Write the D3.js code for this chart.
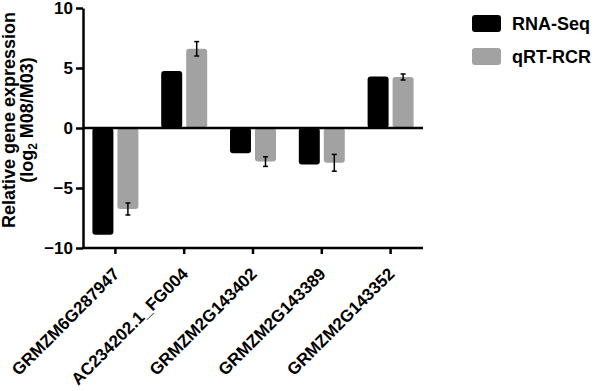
<!DOCTYPE html>
<html>
<head>
<meta charset="utf-8">
<script src="https://cdn.jsdelivr.net/npm/d3@7"></script>
<style>
  body { margin: 0; background: #fff; }
  svg text { font-family: "Liberation Sans", Arial, sans-serif; font-weight: bold; }
</style>
</head>
<body>
<svg id="chart" width="597" height="391"></svg>
<script>
const genes = ["GRMZM6G287947", "AC234202.1_FG004", "GRMZM2G143402", "GRMZM2G143389", "GRMZM2G143352"];
const rnaSeq = [-8.9, 4.75, -2.1, -3.05, 4.3];
const qrtPcr = [-6.75, 6.6, -2.8, -2.9, 4.25];
const qrtErr = [0.5, 0.6, 0.4, 0.7, 0.25];
const seriesNames = ["RNA-Seq", "qRT-RCR"];
const yTicks = [-10, -5, 0, 5, 10];

const svg = d3.select("#chart");
const colors = ["#000000", "#a2a2a2"];

const x = d3.scaleBand().domain(genes).range([81, 425]);
const y = d3.scaleLinear().domain([-10, 10]).range([248, 8]);
const xLeft = 83, xRight = 423;

// bars
const barW = 21;
genes.forEach((g, i) => {
  const c = x(g) + x.bandwidth() / 2;
  [rnaSeq[i], qrtPcr[i]].forEach((v, k) => {
    svg.append("rect")
      .attr("x", k === 0 ? c - 23 : c + 2)
      .attr("y", y(Math.max(0, v)))
      .attr("width", barW)
      .attr("height", Math.abs(y(v) - y(0)))
      .attr("rx", 3)
      .attr("fill", colors[k]);
  });
  // error bar on qRT bars
  const ex = c + 2 + barW / 2;
  const lo = y(qrtPcr[i] - qrtErr[i]), hi = y(qrtPcr[i] + qrtErr[i]);
  svg.append("line").attr("x1", ex).attr("x2", ex).attr("y1", lo).attr("y2", hi)
    .attr("stroke", "#000").attr("stroke-width", 1.5);
  [lo, hi].forEach(yy => svg.append("line")
    .attr("x1", ex - 2.5).attr("x2", ex + 2.5).attr("y1", yy).attr("y2", yy)
    .attr("stroke", "#000").attr("stroke-width", 1.5));
});

// zero line
svg.append("line")
  .attr("x1", xLeft).attr("x2", xRight)
  .attr("y1", y(0)).attr("y2", y(0))
  .attr("stroke", "#000").attr("stroke-width", 2.5);

// y axis
const yAxis = svg.append("g")
  .attr("transform", `translate(${xLeft},0)`)
  .call(d3.axisLeft(y).tickValues(yTicks).tickSize(7).tickPadding(3).tickSizeOuter(0));
yAxis.select(".domain").attr("stroke-width", 2.5);
yAxis.selectAll(".tick line").attr("stroke-width", 2.5);
yAxis.selectAll(".tick text").style("font-size", "17px").attr("fill", "#000")
  .attr("font-family", null);

// x axis
const xAxis = svg.append("g")
  .attr("transform", `translate(0,${y(-10)})`)
  .call(d3.axisBottom(x).tickSize(6).tickSizeOuter(0));
xAxis.select(".domain").remove();
xAxis.append("line").attr("x1", xLeft - 1).attr("x2", xRight)
  .attr("stroke", "#000").attr("stroke-width", 2.5);
xAxis.selectAll(".tick line").attr("stroke-width", 2.5);
xAxis.selectAll(".tick text")
  .style("font-size", "17px").attr("fill", "#000").attr("font-family", null)
  .attr("text-anchor", "end")
  .attr("y", 0).attr("dy", 0)
  .attr("transform", "translate(5,27) rotate(-45)");

// y title
const title = svg.append("g").attr("transform", "translate(0,120) rotate(-90)");
title.append("text").attr("x", 0).attr("y", 15).attr("text-anchor", "middle")
  .style("font-size", "18px").text("Relative gene expression");
const t2 = title.append("text").attr("x", 0).attr("y", 33).attr("text-anchor", "middle")
  .style("font-size", "18px");
t2.append("tspan").text("(log");
t2.append("tspan").attr("dy", 4).style("font-size", "12px").text("2");
t2.append("tspan").attr("dy", -4).text(" M08/M03)");

// legend
const legend = svg.selectAll(".legend")
  .data(seriesNames)
  .enter().append("g")
  .attr("class", "legend")
  .attr("transform", (d, i) => `translate(472, ${15 + i * 33})`);
legend.append("rect")
  .attr("width", 29).attr("height", 17).attr("rx", 3)
  .attr("fill", (d, i) => colors[i]);
legend.append("text")
  .attr("x", 40).attr("y", 15)
  .style("font-size", "18px")
  .text(d => d);
</script>
</body>
</html>
